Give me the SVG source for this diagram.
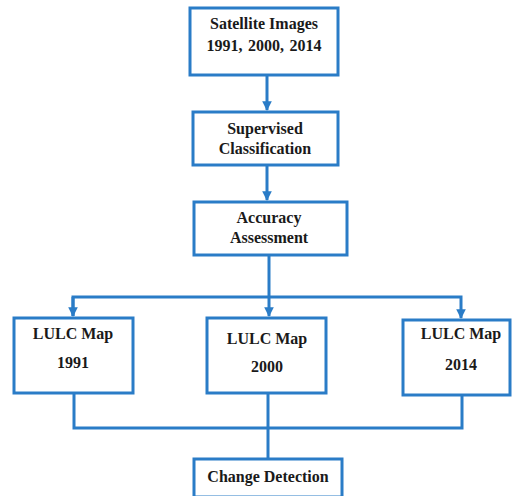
<svg xmlns="http://www.w3.org/2000/svg" width="513" height="496" viewBox="0 0 513 496">
<defs>
<style>
.box{fill:#fff;stroke:#2a7cc7;stroke-width:3}
.ln{fill:none;stroke:#2a7cc7;stroke-width:3}
text{font-family:"Liberation Serif","DejaVu Serif",serif;font-weight:bold;font-size:16px;fill:#1a1a1a;text-anchor:middle}
</style>
<marker id="ah" viewBox="0 0 10 10" refX="9" refY="5" markerWidth="3.2" markerHeight="3.2" orient="auto" markerUnits="strokeWidth">
<path d="M0,0 L10,5 L0,10 z" fill="#2a7cc7"/>
</marker>
</defs>
<rect width="513" height="496" fill="#fff"/>
<g id="connectors">
<line class="ln" x1="267" y1="75" x2="267" y2="110" marker-end="url(#ah)"/>
<line class="ln" x1="267" y1="165" x2="267" y2="200" marker-end="url(#ah)"/>
<line class="ln" x1="269" y1="255" x2="269" y2="316" marker-end="url(#ah)"/>
<polyline class="ln" points="73,316 73,297 461,297 461,318" marker-end="url(#ah)"/>
<line class="ln" x1="73" y1="297" x2="73" y2="316" marker-end="url(#ah)"/>
<polyline class="ln" points="74,393 74,428 462,428 462,395"/>
<line class="ln" x1="268" y1="393" x2="268" y2="459"/>
</g>
<g id="n1"><rect class="box" x="190" y="8" width="148" height="67"/><text x="264" y="29">Satellite Images</text><text x="264" y="51" word-spacing="1.5">1991, 2000, 2014</text></g>
<g id="n2"><rect class="box" x="193" y="112" width="145" height="53"/><text x="265" y="134">Supervised</text><text x="265" y="154">Classification</text></g>
<g id="n3"><rect class="box" x="194" y="202" width="153" height="53"/><text x="269" y="223">Accuracy</text><text x="269" y="243">Assessment</text></g>
<g id="n4"><rect class="box" x="14" y="318" width="119" height="75"/><text x="73" y="339">LULC Map</text><text x="73" y="368">1991</text></g>
<g id="n5"><rect class="box" x="207" y="318" width="119" height="75"/><text x="267" y="344">LULC Map</text><text x="267" y="372">2000</text></g>
<g id="n6"><rect class="box" x="403" y="320" width="107" height="75"/><text x="461" y="339">LULC Map</text><text x="461" y="370">2014</text></g>
<g id="n7"><rect class="box" x="194" y="459" width="148" height="38"/><text x="268" y="482">Change Detection</text></g>
</svg>
